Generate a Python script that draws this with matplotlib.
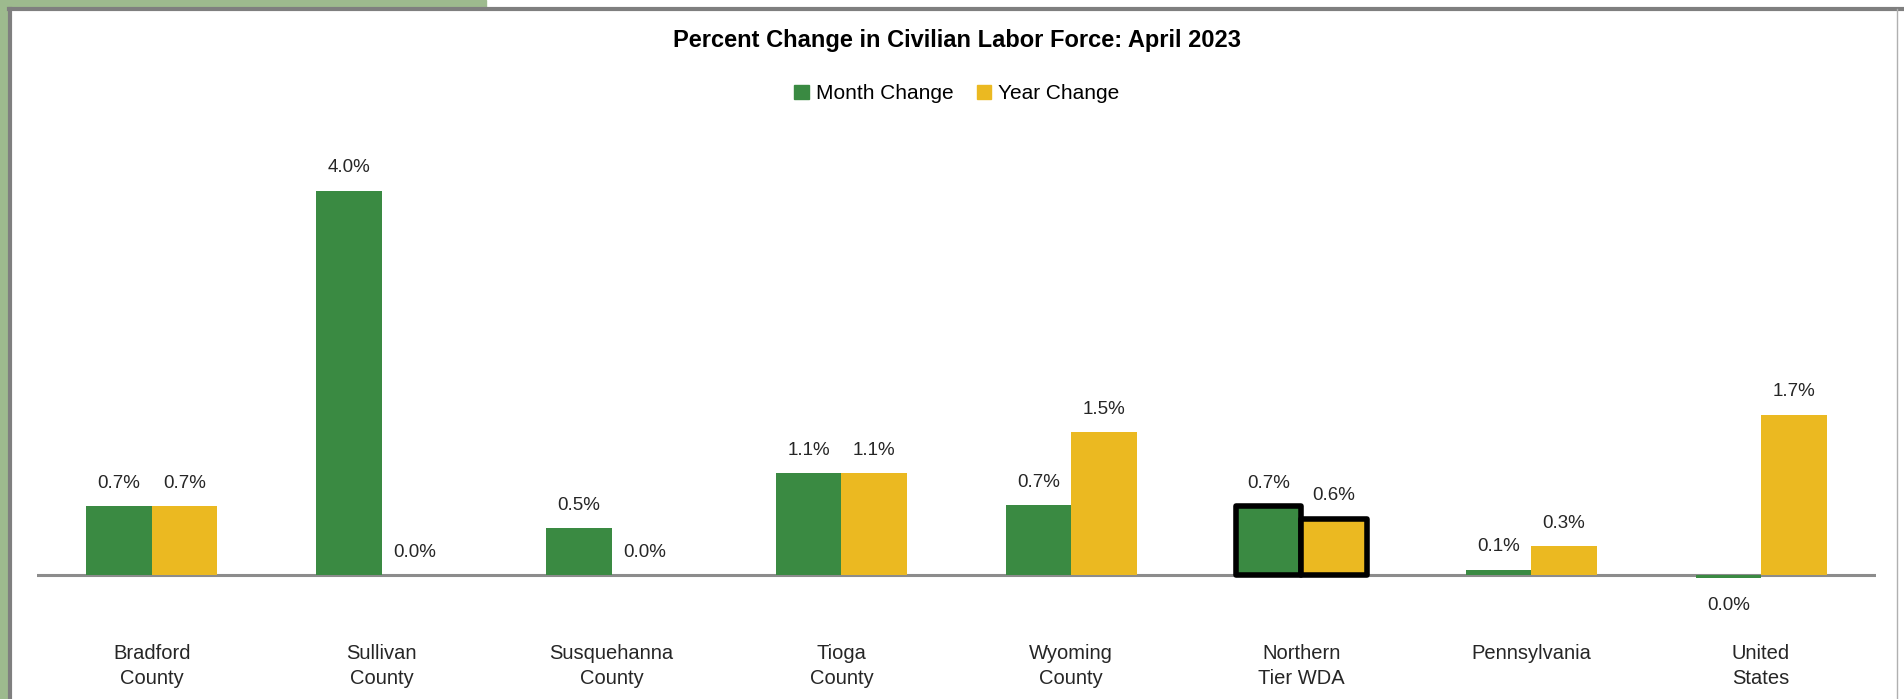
import numpy as np
import matplotlib
matplotlib.use("Agg")
import matplotlib.pyplot as plt
from matplotlib.patches import Rectangle
from matplotlib.lines import Line2D

# -----------------------------
# Data
# -----------------------------
areas = [
    "Bradford\nCounty", "Sullivan\nCounty", "Susquehanna\nCounty", "Tioga\nCounty",
    "Wyoming\nCounty", "Northern\nTier WDA", "Pennsylvania", "United\nStates",
]
month_change = [0.72, 4.0, 0.49, 1.06, 0.73, 0.72, 0.06, -0.03]
year_change = [0.72, 0.0, 0.0, 1.06, 1.49, 0.59, 0.30, 1.67]
highlight = "Northern\nTier WDA"

green = "#3A8A42"
yellow = "#EBB921"
narrow = ["Liberation Sans Narrow", "Liberation Sans", "DejaVu Sans"]
regular = ["Liberation Sans", "DejaVu Sans"]

fig = plt.figure(figsize=(19.04, 6.99), dpi=100)
fig.patch.set_facecolor("white")

# frame decoration (green strip + grey border, as in the source screenshot)
fig.patches.append(Rectangle((0, 0), 0.0045, 1, transform=fig.transFigure,
                             color="#9DBA8E", zorder=0))
fig.patches.append(Rectangle((0, 0.99), 0.255, 0.01, transform=fig.transFigure,
                             color="#9DBA8E", zorder=0))
fig.lines.append(Line2D([0.0045, 1], [0.987, 0.987], transform=fig.transFigure,
                        color="#7F7F7F", lw=3))
fig.lines.append(Line2D([0.0055, 0.0055], [0, 0.987], transform=fig.transFigure,
                        color="#7F7F7F", lw=3))
fig.lines.append(Line2D([0.9965, 0.9965], [0, 0.987], transform=fig.transFigure,
                        color="#B0B0B0", lw=1))

ax = fig.add_axes([0.0193, 0.1357, 0.966, 0.633])
x = np.arange(len(areas))
w = 0.285

for i, area in enumerate(areas):
    hl = area == highlight
    kw = dict(edgecolor="black", linewidth=4, joinstyle="round") if hl else dict(linewidth=0)
    ax.bar(x[i] - w / 2, month_change[i], w, color=green, zorder=3, **kw)
    ax.bar(x[i] + w / 2, year_change[i], w, color=yellow, zorder=3, **kw)

for vals, sign in ((month_change, -1), (year_change, 1)):
    for i, v in enumerate(vals):
        txt = f"{v:.1f}%".replace("-0.0", "0.0")
        off = -19.5 if v < 0 else 16.5
        ax.annotate(txt, (x[i] + sign * w / 2, v), xytext=(0, off),
                    textcoords="offset points", ha="center", va="center",
                    fontsize=13.5, color="#262626", family=narrow)

ax.axhline(0, color="#8C8C8C", lw=2.2, zorder=2)
ax.set_xlim(-0.5, len(areas) - 0.5)
ax.set_ylim(-0.3, 4.3)
ax.set_xticks(x)
ax.set_xticklabels(areas, fontsize=14.5, family=narrow, color="#262626", linespacing=1.35)
ax.tick_params(axis="x", length=0, pad=29)
ax.set_yticks([])
for s in ax.spines.values():
    s.set_visible(False)

fig.text(0.5026, 0.942, "Percent Change in Civilian Labor Force: April 2023",
         ha="center", va="center", fontsize=17, fontweight="bold", family=regular)

handles = [Rectangle((0, 0), 1, 1, color=green), Rectangle((0, 0), 1, 1, color=yellow)]
fig.legend(handles, ["Month Change", "Year Change"], loc="center",
           bbox_to_anchor=(0.5026, 0.866), ncol=2, frameon=False,
           handlelength=0.7, handleheight=0.7, handletextpad=0.35,
           columnspacing=1.1, prop={"family": regular, "size": 15})

fig.savefig("out.png", dpi=100, facecolor="white")
